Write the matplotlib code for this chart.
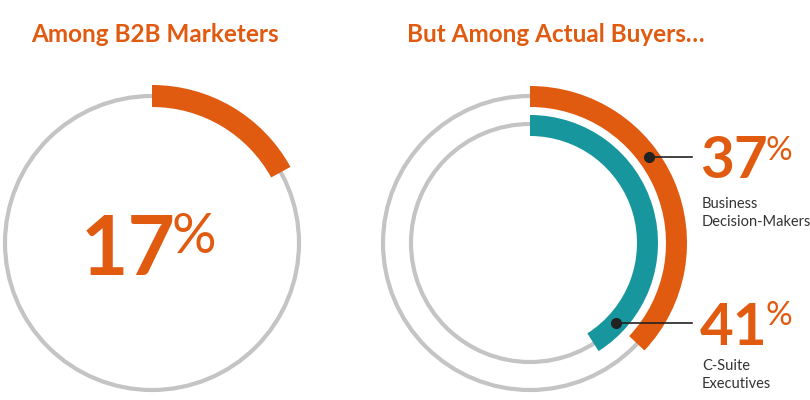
import numpy as np
import matplotlib
matplotlib.use("Agg")
import matplotlib.pyplot as plt
from matplotlib.patches import Wedge, Circle

# data
titles = ["Among B2B Marketers", "But Among Actual Buyers\u2026"]
marketers_pct = 17
buyer_groups = ["Business\nDecision-Makers", "C-Suite\nExecutives"]
buyer_pct = [37, 41]

ORANGE = "#E05A10"
TEAL = "#17969E"
GREY = "#C4C4C4"
DARK = "#333333"
FONT = "Lato"


def arc(ax, cx, cy, r_mid, width, pct, color):
    # y axis is inverted, so theta grows clockwise on screen; start at 12 o'clock
    w = Wedge((cx, cy), r_mid + width / 2, -90, -90 + 360 * pct / 100.0,
              width=width, facecolor=color, edgecolor="none", zorder=3)
    ax.add_patch(w)


def ring(ax, cx, cy, r, color):
    ax.add_patch(Circle((cx, cy), r, fill=False, edgecolor=color, linewidth=3, zorder=2))


def big_pct(ax, x, y, value, size, pct_size, pct_y, gap):
    t = ax.text(x, y, str(value), fontsize=size, color=ORANGE, fontweight="bold",
                family=FONT, ha="left", va="baseline")
    fig.canvas.draw()
    bb = t.get_window_extent().transformed(ax.transData.inverted())
    ax.text(bb.x1 + gap, pct_y, "%", fontsize=pct_size, color=ORANGE,
            family=FONT, ha="left", va="baseline")


fig = plt.figure(figsize=(8.1, 4.0), dpi=100)
ax = fig.add_axes([0, 0, 1, 1])
ax.set_xlim(0, 810)
ax.set_ylim(400, 0)
ax.axis("off")

# left panel
lx, ly = 152, 243
ax.text(31, 42, titles[0], fontsize=17.5, fontweight="bold", color=ORANGE,
        family=FONT, ha="left", va="baseline")
ring(ax, lx, ly, 147, GREY)
arc(ax, lx, ly, 147, 22, marketers_pct, ORANGE)
big_pct(ax, 81, 275, marketers_pct, 59, 40, 253, -4)

# right panel
rx, ry = 530, 243
ax.text(407, 42, titles[1], fontsize=17.5, fontweight="bold", color=ORANGE,
        family=FONT, ha="left", va="baseline")
ring(ax, rx, ry, 147, GREY)
ring(ax, rx, ry, 119, GREY)
arc(ax, rx, ry, 146.5, 21, buyer_pct[0], ORANGE)
arc(ax, rx, ry, 117.5, 21, buyer_pct[1], TEAL)

# callouts
radii = [146.5, 117.5]
line_y = [157, 323]
num_base = [178, 345]
pct_base = [160, 325]
label_y = [213, 375]
for i in range(2):
    dy = ry - line_y[i]
    dx = np.sqrt(radii[i] ** 2 - dy ** 2)
    px = rx + dx
    ax.plot([px, 692], [line_y[i], line_y[i]], color="#222222", lw=1.2, zorder=4)
    ax.plot(px, line_y[i], "o", color="#222222", markersize=7, zorder=5)
    big_pct(ax, 700, num_base[i], buyer_pct[i], 42, 24, pct_base[i], -2)
    ax.text(702, label_y[i], buyer_groups[i], fontsize=10.5, color=DARK, family=FONT,
            ha="left", va="center", linespacing=1.4)

fig.savefig("out.png", dpi=100, facecolor="white")
